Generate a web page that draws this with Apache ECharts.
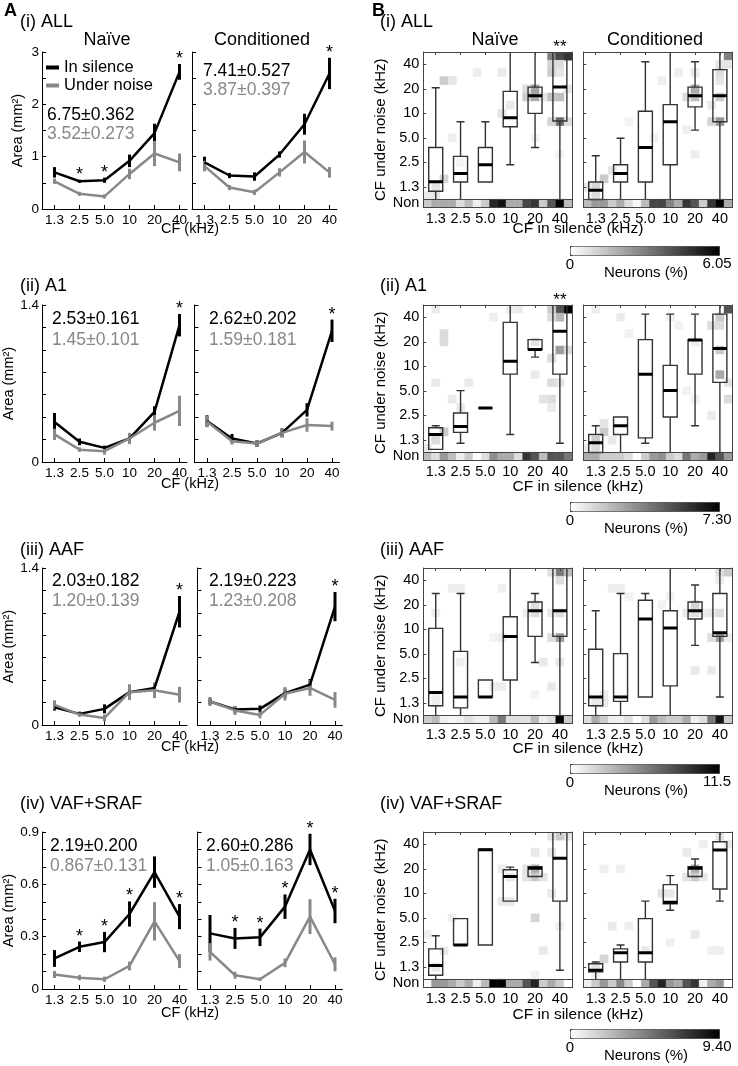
<!DOCTYPE html>
<html><head><meta charset="utf-8">
<script src="https://cdn.jsdelivr.net/npm/echarts@6.0.0/dist/echarts.min.js"></script>
<style>html,body{margin:0;padding:0;background:#fff;}#chart{width:738px;height:1066px;}</style>
</head><body><div id="chart"></div>
<script>
// ================= DATA =================
const cfLabels = ['1.3', '2.5', '5.0', '10', '20', '40'];
const rowTitles = ['(i) ALL', '(ii) A1', '(iii) AAF', '(iv) VAF+SRAF'];
const groupTitles = ['Naïve', 'Conditioned'];
const legendNames = ['In silence', 'Under noise'];

// ---- Panel A: tone-responsive area (mm^2), mean and SEM per CF ----
const areaYMax = [3, 1.4, 1.4, 0.9];
const areaYStep = [0.5, 0.2, 0.2, 0.1];
const areaYLabels = [[0, 1, 2, 3], [0, 1.4], [0, 1.4], [0, 0.3, 0.6, 0.9]];

const silenceNaive = [
  [0.70, 0.53, 0.55, 0.92, 1.45, 2.62],
  [0.357, 0.18, 0.126, 0.21, 0.447, 1.22],
  [0.159, 0.099, 0.144, 0.293, 0.33, 1.01],
  [0.175, 0.242, 0.269, 0.43, 0.67, 0.415]];
const silenceNaiveSem = [
  [0.10, 0.03, 0.05, 0.12, 0.18, 0.15],
  [0.08, 0.03, 0.02, 0.04, 0.05, 0.10],
  [0.03, 0.02, 0.04, 0.04, 0.04, 0.14],
  [0.048, 0.03, 0.058, 0.072, 0.09, 0.072]];
const noiseNaive = [
  [0.53, 0.29, 0.24, 0.67, 1.06, 0.89],
  [0.246, 0.11, 0.096, 0.21, 0.35, 0.456],
  [0.18, 0.093, 0.063, 0.293, 0.31, 0.27],
  [0.083, 0.065, 0.056, 0.132, 0.388, 0.16]];
const noiseNaiveSem = [
  [0.05, 0.04, 0.04, 0.10, 0.24, 0.17],
  [0.05, 0.02, 0.03, 0.05, 0.07, 0.135],
  [0.04, 0.02, 0.03, 0.07, 0.07, 0.07],
  [0.02, 0.015, 0.015, 0.025, 0.11, 0.04]];
const silenceCond = [
  [0.89, 0.64, 0.62, 1.04, 1.62, 2.59],
  [0.366, 0.21, 0.165, 0.26, 0.465, 1.17],
  [0.21, 0.138, 0.144, 0.284, 0.36, 1.056],
  [0.319, 0.29, 0.296, 0.472, 0.80, 0.447]];
const silenceCondSem = [
  [0.11, 0.05, 0.08, 0.06, 0.20, 0.30],
  [0.05, 0.04, 0.03, 0.04, 0.06, 0.10],
  [0.03, 0.03, 0.03, 0.04, 0.05, 0.13],
  [0.105, 0.06, 0.05, 0.07, 0.09, 0.07]];
const noiseCond = [
  [0.82, 0.41, 0.32, 0.70, 1.09, 0.70],
  [0.36, 0.186, 0.165, 0.26, 0.33, 0.32],
  [0.21, 0.13, 0.09, 0.278, 0.33, 0.224],
  [0.213, 0.079, 0.056, 0.15, 0.415, 0.142]];
const noiseCondSem = [
  [0.10, 0.05, 0.05, 0.08, 0.22, 0.10],
  [0.05, 0.03, 0.03, 0.04, 0.06, 0.04],
  [0.04, 0.04, 0.03, 0.06, 0.07, 0.07],
  [0.05, 0.02, 0.01, 0.025, 0.10, 0.04]];
const sigNaive = [[0, 1, 1, 0, 0, 1], [0, 0, 0, 0, 0, 1], [0, 0, 0, 0, 0, 1], [0, 1, 1, 1, 0, 1]];
const sigCond = [[0, 0, 0, 0, 0, 1], [0, 0, 0, 0, 0, 1], [0, 0, 0, 0, 0, 1], [0, 1, 1, 1, 1, 1]];

const statSilenceNaive = ['6.75±0.362', '2.53±0.161', '2.03±0.182', '2.19±0.200'];
const statNoiseNaive = ['3.52±0.273', '1.45±0.101', '1.20±0.139', '0.867±0.131'];
const statSilenceCond = ['7.41±0.527', '2.62±0.202', '2.19±0.223', '2.60±0.286'];
const statNoiseCond = ['3.87±0.397', '1.59±0.181', '1.23±0.208', '1.05±0.163'];

// ---- Panel B: boxplots of CF under noise (kHz) per CF-in-silence group: [low, q1, median, q3, high] ----
const boxNaive = [
  [[0.88, 1.11, 1.45, 3.82, 20.6], [0.88, 1.44, 1.83, 2.97, 7.9], [1.44, 1.44, 2.35, 3.82, 7.9],
   [2.35, 6.87, 8.83, 18.6, 57], [3.82, 10, 16.4, 21, 57], [0.88, 8.05, 21, 57, 57]],
  [[0.96, 0.96, 1.46, 1.77, 1.87], [1.14, 1.55, 1.83, 2.68, 5.05], [3.08, 3.08, 3.08, 3.08, 3.08],
   [1.46, 8.03, 11.55, 34.6, 57], [13.0, 16.1, 16.1, 21.3, 21.3], [1.14, 8.03, 26.9, 57, 57]],
  [[0.88, 1.16, 1.68, 10.3, 27.5], [0.88, 1.09, 1.48, 5.38, 27.5], [1.48, 1.48, 1.48, 2.40, 2.40],
   [0.88, 2.40, 8.2, 14.3, 57], [3.92, 8.2, 16.9, 21.7, 27.5], [0.88, 8.2, 16.9, 57, 57]],
  [[0.88, 0.99, 1.31, 2.09, 3.03], [2.33, 2.33, 2.33, 4.91, 4.91], [2.33, 2.33, 34.3, 34.8, 34.8],
   [8.03, 8.03, 16.1, 19.5, 21], [16.1, 16.1, 20.4, 21.3, 21.3], [1.14, 8.03, 26.9, 57, 57]]];
const boxCond = [
  [[0.88, 0.88, 1.14, 1.44, 3.02], [0.88, 1.44, 1.83, 2.35, 4.96], [0.88, 1.44, 3.82, 10.6, 43],
   [0.88, 2.35, 7.9, 12.8, 57], [6.24, 12, 16.4, 21, 43], [0.88, 7.9, 16.4, 34.4, 57]],
  [[0.88, 0.88, 1.16, 1.46, 1.87], [0.88, 1.46, 1.87, 2.40, 2.40], [1.14, 1.33, 8.03, 21.3, 43.7],
   [0.88, 2.40, 5.05, 10.3, 43.7], [1.87, 8.03, 21, 21.3, 43.7], [0.88, 6.37, 16.6, 43.7, 57]],
  [[0.88, 1.16, 1.48, 5.7, 16.9], [0.88, 1.31, 1.48, 5.05, 27.5], [1.48, 1.48, 13.4, 22.8, 27.5],
   [0.88, 2.03, 10.4, 16.9, 57], [6.37, 13.4, 16.9, 21.7, 35], [1.48, 8.2, 9.07, 27.5, 57]],
  [[0.88, 1.09, 1.14, 1.37, 1.44], [0.88, 1.44, 1.87, 2.09, 2.33], [0.88, 1.44, 1.87, 4.91, 8.03],
   [6.2, 7.47, 7.8, 12.8, 16.5], [16.1, 16.1, 20.4, 21.3, 26.4], [8.03, 11.3, 34.1, 42.9, 57]]];
const starsBNaive = [[0, 0, 0, 0, 0, 2], [0, 0, 0, 0, 0, 2], [0, 0, 0, 0, 0, 0], [0, 0, 0, 0, 0, 0]];
const starsBCond = [[0, 0, 0, 0, 0, 0], [0, 0, 0, 0, 0, 0], [0, 0, 0, 0, 0, 0], [0, 0, 0, 0, 0, 0]];

// ---- Panel B heat maps: neurons (%) per 1/3-octave bin; "Non" row (no CF under noise) ----
const nonRowNaive = [
  [1.2, 2.0, 2.0, 2.0, 0.8, 1.6, 0.4, 1.2, 5.2, 5.6, 2.0, 2.0, 4.4, 4.8, 1.2, 4.0, 6.05, 1.6],
  [1.9, 0.95, 2.9, 1.9, 0.45, 1.45, 0, 0.95, 3.2, 2.4, 2.4, 0.95, 5.8, 4.9, 1.9, 4.9, 4.9, 3.9],
  [2.3, 3.1, 0.7, 0.4, 0.7, 1.4, 0.7, 0.7, 3.1, 6.1, 1.4, 1.4, 1.4, 3.1, 0.7, 1.4, 11.5, 2.3],
  [0.2, 3.8, 3.8, 3.1, 1.9, 3.1, 0.55, 2.5, 9.4, 9.4, 3.1, 3.1, 6.3, 8.1, 1.9, 3.1, 1.9, 0]];
const nonRowCond = [
  [1.6, 2.4, 2.4, 1.2, 2.0, 0.8, 0.2, 1.6, 4.4, 4.4, 2.9, 2.0, 4.8, 4.0, 1.2, 4.8, 6.05, 2.0],
  [2.4, 2.4, 1.45, 1.45, 1.45, 0.95, 0, 1.45, 2.9, 3.2, 1.45, 0.95, 3.9, 2.4, 2.9, 6.3, 4.9, 2.9],
  [1.4, 3.8, 2.3, 0.7, 0.7, 1.4, 0, 1.4, 4.6, 3.1, 2.3, 2.3, 3.8, 0.7, 1.4, 6.1, 10.7, 2.3],
  [0.55, 1.9, 3.8, 1.9, 4.4, 1.9, 0, 3.1, 6.3, 8.1, 3.8, 3.1, 6.3, 7.5, 0.55, 3.1, 3.8, 0]];
// [silence bin, noise bin, neurons %]
const cellsNaive = [
  [[15,17,3.0],[16,17,4.4],[17,17,4.8],[15,16,1.0],[16,16,0.8],[15,15,1.2],[16,15,0.6],[17,13,0.6],[2,14,1.2],[3,14,0.6],
   [13,13,2.2],[13,12,2.0],[12,13,0.8],[12,12,1.2],[14,12,0.6],[15,12,1.5],[16,12,1.5],[16,9,3.5],[15,9,1.0],[17,9,0.8],
   [9,15,0.5],[6,15,0.4],[10,11,0.5],[9,10,0.6],[2,2,1.0],[1,1,0.6],[0,0,0.5],[1,0,0.6],[3,7,0.4],[4,4,0.3],[13,7,0.3],[16,5,0.3]],
  [[17,17,7.3],[16,17,4.9],[15,17,1.5],[16,16,2.0],[15,16,1.0],[16,12,2.8],[17,12,1.0],[15,11,1.0],[15,8,1.0],[16,8,0.8],
   [15,6,1.0],[14,6,0.8],[15,5,0.6],[2,14,1.0],[2,13,1.0],[1,17,0.6],[1,8,0.6],[5,8,0.6],[3,6,0.6],[4,5,0.6],
   [2,2,1.5],[1,1,1.0],[0,0,0.6],[13,13,0.8],[8,16,0.5],[10,17,0.5],[11,17,0.6],[13,9,0.6]],
  [[16,17,6.1],[17,17,3.0],[15,17,1.5],[16,16,1.5],[16,9,4.5],[15,9,1.5],[16,12,1.5],[15,12,1.0],[13,13,1.5],[13,12,1.5],
   [12,12,0.7],[3,15,0.8],[4,15,0.8],[1,12,0.7],[9,15,0.7],[9,9,0.8],[8,9,0.6],[4,6,0.7],[14,6,1.0],[16,6,1.0],
   [15,3,1.0],[13,2,0.6],[8,3,0.8],[9,3,0.8],[1,2,0.7],[1,1,0.7]],
  [[16,17,2.0],[15,17,1.0],[17,17,1.0],[13,15,0.8],[15,15,0.8],[13,13,3.0],[13,12,2.0],[12,12,1.0],[12,13,1.0],[10,12,0.8],
   [9,13,0.6],[14,12,1.0],[15,10,0.8],[9,9,0.8],[10,9,0.8],[13,7,1.5],[16,6,0.6],[14,3,0.8],[0,5,0.6],[3,7,0.6],
   [2,3,0.8],[1,1,0.8],[13,0,0.5]]];
const cellsCond = [
  [[17,17,3.0],[17,16,0.6],[16,16,0.6],[13,13,2.0],[13,12,1.5],[12,12,0.8],[16,12,1.2],[16,9,2.5],[15,9,1.0],[2,2,1.2],
   [1,1,1.0],[0,1,0.6],[1,0,0.8],[3,3,0.6],[12,8,0.4],[13,5,0.4],[9,14,0.4],[11,15,0.4],[13,15,0.5],[16,15,0.8],
   [16,14,0.6],[15,11,0.5],[5,9,0.3],[8,7,0.3]],
  [[17,17,4.9],[16,16,1.5],[16,15,1.0],[15,15,1.0],[16,12,1.5],[16,9,2.5],[17,8,0.8],[17,6,1.0],[15,4,0.6],[1,17,0.5],
   [4,16,0.6],[5,14,0.4],[13,13,0.5],[12,7,0.4],[13,6,0.4],[2,2,1.5],[1,1,1.5],[1,0,1.0],[2,3,0.8],[0,0,0.6],
   [3,1,0.6],[11,15,0.4],[10,16,0.4]],
  [[17,17,2.3],[16,17,1.5],[16,16,0.8],[13,13,2.0],[13,12,1.5],[12,12,1.0],[14,12,0.8],[16,12,1.5],[15,12,1.0],[16,9,4.5],
   [15,9,1.5],[17,9,0.8],[15,5,1.0],[13,5,1.0],[1,1,1.0],[2,1,1.0],[2,2,0.8],[3,15,0.8],[4,15,0.8],[5,14,0.6],
   [10,14,0.6],[9,13,0.6]],
  [[16,17,1.0],[17,16,0.8],[14,16,0.6],[13,13,3.0],[13,12,2.0],[12,12,1.0],[14,12,0.8],[12,15,0.8],[9,10,1.0],[10,10,0.8],
   [2,13,0.6],[4,13,0.6],[3,6,0.8],[5,6,0.6],[13,5,0.8],[2,2,1.5],[1,1,1.0],[7,3,0.8],[10,4,0.6],[15,3,0.6],
   [16,3,0.6],[1,0,0.6]]];
const neuronsMax = [6.05, 7.30, 11.5, 9.40];
const neuronsMaxLabel = ['6.05', '7.30', '11.5', '9.40'];

// ================= LAYOUT / STYLE =================
const FONT = '"Liberation Sans", Arial, Helvetica, sans-serif';
const rowTop = [52, 305, 568, 832];
const titleY = [22, 286, 550, 804];
const A_H = 157, A_W = 145, A_LEFT_N = 42, A_LEFT_C = [192, 194.5, 197.5, 197.5];
const areaNameGap = [17, 12, 12, 23];
const B_H = 155.5, B_W = 149, B_LEFT = [423.3, 583.3];
const cbTop = [246, 502, 764, 1029];
const statPos = [
  {n: [47, 115, 134], c: [203, 71, 90]},
  {n: [52, 319, 340], c: [209, 319, 340]},
  {n: [52, 581, 601], c: [209, 581, 601]},
  {n: [50, 846, 866], c: [206, 846, 866]}];
const cfTitleY = [229, 484, 747, 1013];
const cfSilTitleY = [229, 487, 749, 1015];
const BLACK = '#000', GRAY = '#888';

const octave = f => Math.log2(f / 1.25);
const grid = [], xAxis = [], yAxis = [], series = [], visualMap = [], graphic = [];

function txt(x, y, text, size, fill, align, weight) {
  graphic.push({type: 'text', x: x, y: y, silent: true, z: 50,
    style: {text: text, fontSize: size, fontFamily: FONT, fill: fill || BLACK,
      align: align || 'left', verticalAlign: 'middle', fontWeight: weight || 'normal'}});
}

function errItem(col) {
  return function (params, api) {
    const x = api.value(0), m = api.value(1), s = api.value(2), sig = api.value(3);
    const t = api.coord([x, m + s]), b = api.coord([x, m - s]);
    const ch = [{type: 'line', shape: {x1: t[0], y1: t[1], x2: b[0], y2: b[1]}, style: {stroke: col, lineWidth: 3}}];
    if (sig > 0) ch.push({type: 'text', x: t[0], y: t[1] + 4,
      style: {text: '*', fontSize: 18, fontFamily: FONT, fill: BLACK, align: 'center', verticalAlign: 'bottom'}});
    return {type: 'group', children: ch};
  };
}

function heatItem(params, api) {
  const i = api.value(0), j = api.value(1);
  const a = api.coord([-0.5 + i / 3, -0.5 + (j + 1) / 3]);
  const b = api.coord([-0.5 + (i + 1) / 3, -0.5 + j / 3]);
  const c = api.visual('color');
  return {type: 'rect', shape: {x: a[0], y: a[1], width: b[0] - a[0], height: b[1] - a[1]},
    style: {fill: c, stroke: c, lineWidth: 0.4}};
}

function boxItem(params, api) {
  const x = api.value(0);
  const v = [1, 2, 3, 4, 5].map(k => api.value(k));
  const p = v.map(y => api.coord([x, y]));
  const cx = p[0][0], hw = 7, cw = 4, st = '#333';
  const ch = [];
  ch.push({type: 'line', shape: {x1: cx, y1: p[4][1], x2: cx, y2: p[3][1]}, style: {stroke: st, lineWidth: 1.4}});
  ch.push({type: 'line', shape: {x1: cx, y1: p[1][1], x2: cx, y2: p[0][1]}, style: {stroke: st, lineWidth: 1.4}});
  if (v[4] < 5.45 && v[4] > v[3]) ch.push({type: 'line', shape: {x1: cx - cw, y1: p[4][1], x2: cx + cw, y2: p[4][1]}, style: {stroke: st, lineWidth: 1.4}});
  if (v[0] > -0.45 && v[0] < v[1]) ch.push({type: 'line', shape: {x1: cx - cw, y1: p[0][1], x2: cx + cw, y2: p[0][1]}, style: {stroke: st, lineWidth: 1.4}});
  ch.push({type: 'rect', shape: {x: cx - hw, y: p[3][1], width: 2 * hw, height: p[1][1] - p[3][1]},
    style: {fill: 'none', stroke: st, lineWidth: 1.4}});
  ch.push({type: 'line', shape: {x1: cx - hw, y1: p[2][1], x2: cx + hw, y2: p[2][1]}, style: {stroke: BLACK, lineWidth: 3}});
  return {type: 'group', children: ch};
}

function starItem(params, api) {
  const n = api.value(2);
  const p = api.coord([api.value(0), api.value(1)]);
  return {type: 'text', x: p[0], y: p[1] + 4,
    style: {text: '*'.repeat(n), fontSize: 17, fontFamily: FONT, fill: BLACK, align: 'center', verticalAlign: 'bottom'}};
}

const tickIdx = [0, 1, 2, 3, 4, 5];

// ---------- Panel A ----------
for (let r = 0; r < 4; r++) {
  for (let c = 0; c < 2; c++) {
    const gi = grid.length;
    grid.push({left: c ? A_LEFT_C[r] : A_LEFT_N, top: rowTop[r], width: A_W, height: A_H});
    xAxis.push({gridIndex: gi, type: 'value', min: -0.5, max: 5.3,
      axisLine: {show: true, onZero: false, lineStyle: {color: BLACK, width: 1}},
      axisTick: {show: true, inside: true, length: 4, customValues: tickIdx, lineStyle: {color: BLACK}},
      axisLabel: {customValues: tickIdx, formatter: v => cfLabels[Math.round(v)], fontSize: 13.5, fontFamily: FONT, color: BLACK, margin: 4},
      splitLine: {show: false}});
    yAxis.push({gridIndex: gi, type: 'value', min: 0, max: areaYMax[r], interval: areaYStep[r],
      axisLine: {show: true, onZero: false, lineStyle: {color: BLACK, width: 1}},
      axisTick: {show: true, inside: true, length: 4, lineStyle: {color: BLACK}},
      axisLabel: {show: c === 0, customValues: areaYLabels[r], fontSize: 13.5, fontFamily: FONT, color: BLACK, margin: 3},
      splitLine: {show: false},
      name: c === 0 ? 'Area (mm²)' : '', nameLocation: 'middle', nameGap: areaNameGap[r],
      nameTextStyle: {fontSize: 14.5, fontFamily: FONT, color: BLACK}});
    const sets = c === 0
      ? [[silenceNaive, silenceNaiveSem, sigNaive, legendNames[0], BLACK], [noiseNaive, noiseNaiveSem, null, legendNames[1], GRAY]]
      : [[silenceCond, silenceCondSem, sigCond, legendNames[0], BLACK], [noiseCond, noiseCondSem, null, legendNames[1], GRAY]];
    for (const [m, s, sig, name, col] of sets) {
      series.push({type: 'line', name: name, xAxisIndex: gi, yAxisIndex: gi, data: m[r].map((v, i) => [i, v]),
        showSymbol: false, symbol: 'none', color: col, lineStyle: {color: col, width: 2.5}, z: 3, silent: true});
      series.push({type: 'custom', xAxisIndex: gi, yAxisIndex: gi,
        data: m[r].map((v, i) => [i, v, s[r][i], sig ? sig[r][i] : 0]), renderItem: errItem(col), z: 3, silent: true});
    }
    const sp = statPos[r][c ? 'c' : 'n'];
    txt(sp[0], sp[1], (c ? statSilenceCond : statSilenceNaive)[r], 17.5, BLACK);
    txt(sp[0], sp[2], (c ? statNoiseCond : statNoiseNaive)[r], 17.5, GRAY);
  }
  txt(20, titleY[r], rowTitles[r], 18);
  txt(190, cfTitleY[r], 'CF (kHz)', 14.5, BLACK, 'center');
}

// ---------- Panel B ----------
const axisFrame = {show: true, onZero: false, lineStyle: {color: '#444', width: 1}};
for (let r = 0; r < 4; r++) {
  const heatIdx = [];
  for (let c = 0; c < 2; c++) {
    const gi = grid.length;
    grid.push({left: B_LEFT[c], top: rowTop[r], width: B_W, height: B_H});
    const xb = xAxis.length;
    xAxis.push({gridIndex: gi, type: 'value', min: -0.5, max: 5.5, position: 'bottom', z: 10, axisLine: axisFrame,
      axisTick: {show: false},
      axisLabel: {customValues: tickIdx, formatter: v => cfLabels[Math.round(v)], fontSize: 14.5, fontFamily: FONT, color: BLACK, margin: 4},
      splitLine: {show: false}});
    xAxis.push({gridIndex: gi, type: 'value', min: -0.5, max: 5.5, position: 'top', z: 10, axisLine: axisFrame,
      axisTick: {show: true, inside: true, length: 3, customValues: tickIdx, lineStyle: {color: '#444'}},
      axisLabel: {show: false}, splitLine: {show: false}});
    const yl = yAxis.length;
    yAxis.push({gridIndex: gi, type: 'value', min: -5 / 6, max: 5.5, position: 'left', z: 10, axisLine: axisFrame,
      axisTick: {show: true, inside: true, length: 3, customValues: tickIdx, lineStyle: {color: '#444'}},
      axisLabel: {show: c === 0, customValues: [-2 / 3, 0, 1, 2, 3, 4, 5],
        formatter: v => (v < -0.3 ? 'Non' : cfLabels[Math.round(v)]), fontSize: 14.5, fontFamily: FONT, color: BLACK, margin: 4},
      splitLine: {show: false},
      name: c === 0 ? 'CF under noise (kHz)' : '', nameLocation: 'middle', nameGap: 33,
      nameTextStyle: {fontSize: 15, fontFamily: FONT, color: BLACK}});
    yAxis.push({gridIndex: gi, type: 'value', min: -5 / 6, max: 5.5, position: 'right', z: 10, axisLine: axisFrame,
      axisTick: {show: false}, axisLabel: {show: false}, splitLine: {show: false}});
    const nonRow = (c ? nonRowCond : nonRowNaive)[r];
    const cells = (c ? cellsCond : cellsNaive)[r];
    heatIdx.push(series.length);
    series.push({type: 'custom', xAxisIndex: xb, yAxisIndex: yl, clip: true, z: 2, silent: true,
      data: nonRow.map((v, i) => [i, -1, v]).concat(cells), renderItem: heatItem,
      markLine: {silent: true, symbol: 'none', animation: false, label: {show: false},
        lineStyle: {color: '#444', width: 1, type: 'solid'}, data: [{yAxis: -0.5}]}});
    const boxes = (c ? boxCond : boxNaive)[r];
    series.push({type: 'custom', xAxisIndex: xb, yAxisIndex: yl, clip: true, z: 4, silent: true,
      encode: {x: 0, y: [1, 2, 3, 4, 5]},
      data: boxes.map((b, i) => [i].concat(b.map(octave))), renderItem: boxItem});
    const stars = (c ? starsBCond : starsBNaive)[r];
    series.push({type: 'custom', xAxisIndex: xb, yAxisIndex: yl, z: 4, silent: true,
      data: stars.map((n, i) => [i, 5.5, n]).filter(d => d[2] > 0), renderItem: starItem});
  }
  visualMap.push({type: 'continuous', seriesIndex: heatIdx, dimension: 2, min: 0, max: neuronsMax[r],
    inRange: {color: ['#ffffff', '#000000']}, orient: 'horizontal', left: 570, top: cbTop[r],
    itemWidth: 9, itemHeight: 149, calculable: false, text: null, padding: 0, hoverLink: false,
    borderColor: '#333', borderWidth: 1});
  txt(380, titleY[r], rowTitles[r], 18);
  txt(578, cfSilTitleY[r], 'CF in silence (kHz)', 15.5, BLACK, 'center');
  txt(570, cbTop[r] + 19, '0', 15, BLACK, 'center');
  txt(646, cbTop[r] + 27, 'Neurons (%)', 15, BLACK, 'center');
  txt(717, cbTop[r] + 18, neuronsMaxLabel[r], 15, BLACK, 'center');
}

txt(4, 11, 'A', 18, BLACK, 'left', 'bold');
txt(372, 11, 'B', 18, BLACK, 'left', 'bold');
txt(107, 40, groupTitles[0], 18, BLACK, 'center');
txt(262, 40, groupTitles[1], 18, BLACK, 'center');
txt(495, 40, groupTitles[0], 18, BLACK, 'center');
txt(655, 40, groupTitles[1], 18, BLACK, 'center');

const chart = echarts.init(document.getElementById('chart'), null, {renderer: 'canvas'});
chart.setOption({
  animation: false,
  backgroundColor: '#fff',
  textStyle: {fontFamily: FONT},
  legend: {data: legendNames, left: 46, top: 59, orient: 'vertical', icon: 'rect', itemWidth: 13, itemHeight: 4,
    itemGap: 1, padding: 0, selectedMode: false, textStyle: {fontSize: 16.5, fontFamily: FONT, color: BLACK, lineHeight: 16}},
  grid, xAxis, yAxis, series, visualMap, graphic
});
</script></body></html>
